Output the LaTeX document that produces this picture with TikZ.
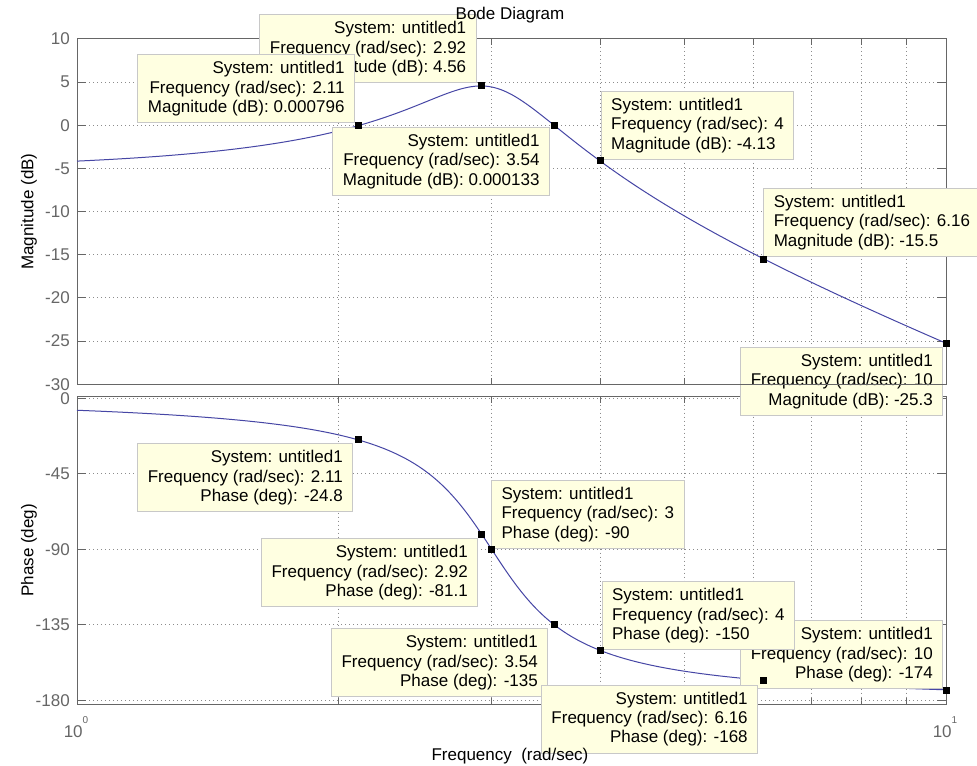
\documentclass[tikz,border=0pt]{standalone}
\usepackage{fontspec}
\setmainfont{Liberation Sans}
\definecolor{axgray}{RGB}{102,102,102}
\definecolor{gridgray}{RGB}{140,140,140}
\definecolor{tipfill}{RGB}{255,255,225}
\definecolor{tipedge}{RGB}{200,200,200}
\definecolor{curveblue}{RGB}{70,70,165}
\begin{document}
\begin{tikzpicture}[x=0.75pt,y=-0.75pt,
  every node/.style={font=\fontsize{12.75}{14.6}\selectfont, inner sep=0pt},
  frame/.style={draw=axgray, line width=0.75pt},
  gridline/.style={draw=gridgray, line width=0.75pt, dash pattern=on 0.75pt off 2.25pt},
  tickmark/.style={draw=axgray, line width=0.75pt},
  tip/.style={draw=tipedge, fill=tipfill, line width=0.75pt, inner xsep=7.5pt, inner ysep=0pt, minimum height=51pt},
  tipR/.style={tip, align=right},
  tipL/.style={tip, align=left},
  ticklab/.style={text=axgray, anchor=east},
  xticklab/.style={text=axgray, anchor=center},
  axlabel/.style={text=black},
  marker/.style={fill=black, minimum size=5.25pt, inner sep=0pt},
  curve/.style={draw=curveblue, line width=0.75pt},
  declare function={
    ww(\t)=pow(10,\t);
    dbm(\w)=13.9794-10*log10((9-\w*\w)*(9-\w*\w)+\w*\w);
    phd(\w)=atan2(\w,9-\w*\w);
  }
]
\useasboundingbox (0,0) rectangle (977,766);
\fill[white] (0,0) rectangle (977,766);

% ---------------- lower axes (phase) ----------------
\foreach \k in {2,...,9} {
  \draw[gridline] ({77+869*log10(\k)},396.7) -- ({77+869*log10(\k)},704);
  \draw[tickmark] ({77+869*log10(\k)},704) -- ({77+869*log10(\k)},698);
  \draw[tickmark] ({77+869*log10(\k)},396.7) -- ({77+869*log10(\k)},402.7);
}
\foreach \d in {0,45,90,135,180} {
  \draw[gridline] (77,{398.3+1.678*\d}) -- (946,{398.3+1.678*\d});
  \draw[tickmark] (77,{398.3+1.678*\d}) -- (85.7,{398.3+1.678*\d});
  \draw[tickmark] (946,{398.3+1.678*\d}) -- (937.3,{398.3+1.678*\d});
}
\draw[frame] (77,396.7) rectangle (946,704);
\draw[curve] plot[domain=0:1, samples=300, variable=\t] ({77+869*\t},{398.3+1.678*phd(ww(\t))});

% ---------------- upper axes (magnitude) ----------------
\foreach \k in {2,...,9} {
  \draw[gridline] ({77+869*log10(\k)},39) -- ({77+869*log10(\k)},384.3);
  \draw[tickmark] ({77+869*log10(\k)},384.3) -- ({77+869*log10(\k)},378.3);
  \draw[tickmark] ({77+869*log10(\k)},39) -- ({77+869*log10(\k)},45);
}
\foreach \v in {5,0,-5,-10,-15,-20,-25} {
  \draw[gridline] (77,{125.3-8.63*\v}) -- (946,{125.3-8.63*\v});
}
\foreach \v in {10,5,0,-5,-10,-15,-20,-25,-30} {
  \draw[tickmark] (77,{125.3-8.63*\v}) -- (85.7,{125.3-8.63*\v});
  \draw[tickmark] (946,{125.3-8.63*\v}) -- (937.3,{125.3-8.63*\v});
}
\draw[frame] (77,39) rectangle (946,384.3);
\draw[curve] plot[domain=0:1, samples=300, variable=\t] ({77+869*\t},{125.3-8.63*dbm(ww(\t))});

% ---------------- tick labels ----------------
\foreach \v [count=\i] in {10,5,0,-5,-10,-15,-20,-25,-30} {
  \node[ticklab] (ml\i) at (70,{125.3-8.63*\v}) {\v};
}
\foreach \d [count=\i] in {0,-45,-90,-135,-180} {
  \node[ticklab] (pl\i) at (70,{398.3-1.678*\d}) {\d};
}
\node[xticklab] (x0) at (76,727) {10\raisebox{10.5pt}{\fontsize{7.5}{7.5}\selectfont 0}};
\node[xticklab] (x1) at (945,727) {10\raisebox{10.5pt}{\fontsize{7.5}{7.5}\selectfont 1}};

% ---------------- data tips: magnitude ----------------
\node[tipR, anchor=south east] (tipB) at (476.7,83.3) {System: untitled1\\Frequency (rad/sec): 2.92\\Magnitude (dB): 4.56};
\node[tipR, anchor=south east] (tipA) at (355,123.3) {System: untitled1\\Frequency (rad/sec): 2.11\\Magnitude (dB): 0.000796};
\node[tipR, anchor=north east] (tipC) at (550,126.7) {System: untitled1\\Frequency (rad/sec): 3.54\\Magnitude (dB): 0.000133};
\node[tipL, anchor=south west] (tipD) at (600.7,160) {System: untitled1\\Frequency (rad/sec): 4\\Magnitude (dB): -4.13};
\node[tipL, anchor=south west] (tipE) at (763.3,256.7) {System: untitled1\\Frequency (rad/sec): 6.16\\Magnitude (dB): -15.5};
\node[tipR, anchor=north east] (tipF) at (943.3,346.7) {System: untitled1\\Frequency (rad/sec): 10\\Magnitude (dB): -25.3};
\draw[frame] (77,384.3) -- (946,384.3);

% ---------------- data tips: phase ----------------
\node[tipR, anchor=north east] (tipG) at (353.3,443.3) {System: untitled1\\Frequency (rad/sec): 2.11\\Phase (deg): -24.8};
\node[tipR, anchor=north east] (tipH) at (478.3,538.3) {System: untitled1\\Frequency (rad/sec): 2.92\\Phase (deg): -81.1};
\node[tipL, anchor=south west] (tipI) at (491,549) {System: untitled1\\Frequency (rad/sec): 3\\Phase (deg): -90};
\node[tipR, anchor=north east] (tipJ) at (548.3,628.3) {System: untitled1\\Frequency (rad/sec): 3.54\\Phase (deg): -135};
\node[tipR, anchor=south east] (tipM) at (943.3,689.3) {System: untitled1\\Frequency (rad/sec): 10\\Phase (deg): -174};
\node[tipL, anchor=south west] (tipK) at (601.5,650.3) {System: untitled1\\Frequency (rad/sec): 4\\Phase (deg): -150};
\node[tipR, anchor=north east] (tipL) at (758.2,684.6) {System: untitled1\\Frequency (rad/sec): 6.16\\Phase (deg): -168};

% ---------------- markers ----------------
\node[marker] (mA) at (358.8,125.3) {};
\node[marker] (mB) at (481.4,85.9) {};
\node[marker] (mC) at (554.1,125.3) {};
\node[marker] (mD) at (600.2,161.0) {};
\node[marker] (mE) at (763.1,259.1) {};
\node[marker] (mF) at (946,343.6) {};
\node[marker] (pA) at (358.8,439.9) {};
\node[marker] (pB) at (481.4,534.4) {};
\node[marker] (pC) at (491.6,549.3) {};
\node[marker] (pD) at (554.1,624.8) {};
\node[marker] (pE) at (600.2,650.0) {};
\node[marker] (pF) at (763.1,680.2) {};
\node[marker] (pG) at (946,690.3) {};

% ---------------- titles ----------------
\node[axlabel] (title) at (510,15) {Bode Diagram};
\node[axlabel] (xlab) at (510,756) {Frequency~ (rad/sec)};
\node[axlabel, rotate=90] (ylab1) at (29,211.6) {Magnitude (dB)};
\node[axlabel, rotate=90] (ylab2) at (29,550.4) {Phase (deg)};
\end{tikzpicture}
\end{document}
